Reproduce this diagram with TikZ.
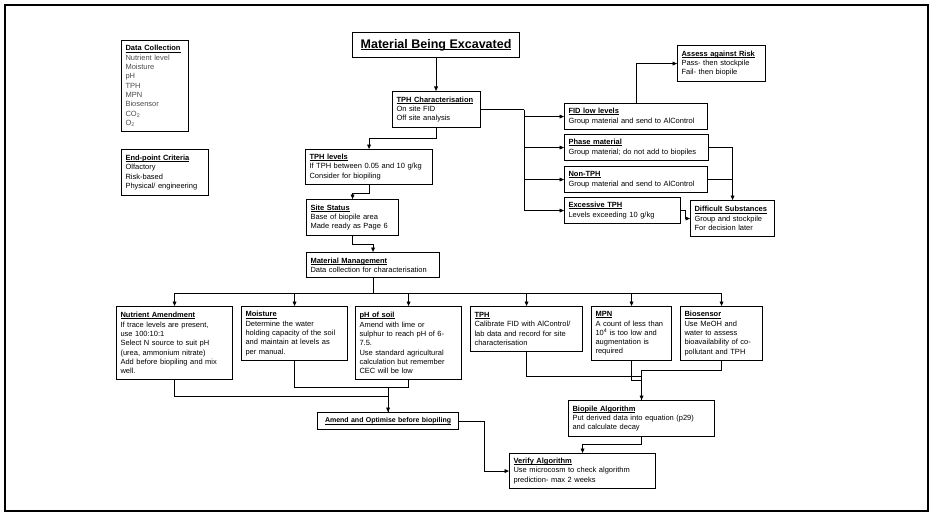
\documentclass[tikz,border=0pt]{standalone}
\usepackage{fontspec}
\setmainfont{Liberation Sans}
\usepackage{calc}
\usepackage{xcolor}
\usepackage{tikz}
\usetikzlibrary{arrows.meta,calc}

\newcommand{\boxhead}[1]{\mbox{\textbf{#1}}\llap{\rule[-1.1pt]{\widthof{\textbf{#1}}}{0.45pt}}}

\begin{document}
\begin{tikzpicture}[
			x=1pt, y=-1pt,
			every node/.style={font=\fontsize{7.5}{9.3}\selectfont},
			box/.style={rectangle, draw, line width=1.1pt, anchor=north west, align=left, inner xsep=4pt, inner ysep=3pt},
			titlebox/.style={rectangle, draw, line width=1.1pt, anchor=north west, align=center, minimum width=167pt, minimum height=25pt, font=\fontsize{12.5}{14}\selectfont},
			line/.style={line width=0.8pt},
			heavy/.style={line width=1.8pt},
			arrow/.style={-{Triangle[length=4.5pt,width=3.8pt]}, line width=0.8pt}
		]
		\useasboundingbox (0,0) rectangle (933,516);
		\draw[line width=2pt] (5,5) rectangle (928,511);

		% side notes
		\node (data) [box, text width=59pt, minimum height=91pt] at (121,40) {\boxhead{Data Collection}\\\color{black!70}Nutrient level\\\color{black!70}Moisture\\\color{black!70}pH\\\color{black!70}TPH\\\color{black!70}MPN\\\color{black!70}Biosensor\\\color{black!70}CO\textsubscript{2}\\\color{black!70}O\textsubscript{2}};
		\node (endpoint) [box, text width=79pt, minimum height=46pt] at (121,149) {\boxhead{End-point Criteria}\\Olfactory\\Risk-based\\Physical/ engineering};

		% main column
		\node (title) [titlebox] at (352,32) {\boxhead{Material Being Excavated}};
		\node (tphchar) [box, text width=80pt, minimum height=36pt] at (392,91) {\boxhead{TPH Characterisation}\\On site FID\\Off site analysis};
		\node (tphlev) [box, text width=119pt, minimum height=35pt] at (305,149) {\boxhead{TPH levels}\\If TPH between 0.05 and 10 g/kg\\Consider for biopiling};
		\node (site) [box, text width=84pt, minimum height=36pt] at (306,199) {\boxhead{Site Status}\\Base of biopile area\\Made ready as Page 6};
		\node (mm) [box, text width=125pt, minimum height=25pt] at (306,252) {\boxhead{Material Management}\\Data collection for characterisation};

		% screening branch
		\node (assess) [box, text width=80pt, minimum height=36pt] at (677,45) {\boxhead{Assess against Risk}\\Pass- then stockpile\\Fail- then biopile};
		\node (fid) [box, text width=135pt, minimum height=26pt] at (564,103) {\boxhead{FID low levels}\\Group material and send to AlControl};
		\node (phase) [box, text width=136pt, minimum height=26pt] at (564,134) {\boxhead{Phase material}\\Group material; do not add to biopiles};
		\node (nontph) [box, text width=135pt, minimum height=26pt] at (564,166) {\boxhead{Non-TPH}\\Group material and send to AlControl};
		\node (excess) [box, text width=108pt, minimum height=26pt] at (564,197) {\boxhead{Excessive TPH}\\Levels exceeding 10 g/kg};
		\node (diff) [box, text width=76pt, minimum height=36pt] at (690,200) {\boxhead{Difficult Substances}\\Group and stockpile\\For decision later};

		% data collection row
		\node (nutr) [box, text width=108pt, minimum height=73pt] at (116,306) {\boxhead{Nutrient Amendment}\\If trace levels are present,\\use 100:10:1\\Select N source to suit pH\\(urea, ammonium nitrate)\\Add before biopiling and mix\\well.};
		\node (moist) [box, text width=98pt, minimum height=54pt] at (241,306) {\boxhead{Moisture}\\Determine the water\\holding capacity of the soil\\and maintain at levels as\\per manual.};
		\node (ph) [box, text width=98pt, minimum height=73pt] at (355,306) {\boxhead{pH of soil}\\Amend with lime or\\sulphur to reach pH of 6-\\7.5.\\Use standard agricultural\\calculation but remember\\CEC will be low};
		\node (tph) [box, text width=104pt, minimum height=45pt] at (470,306) {\boxhead{TPH}\\Calibrate FID with AlControl/\\lab data and record for site\\characterisation};
		\node (mpn) [box, text width=72pt, minimum height=54pt] at (591,306) {\boxhead{MPN}\\A count of less than\\10\textsuperscript{4} is too low and\\augmentation is\\required};
		\node (bios) [box, text width=74pt, minimum height=54pt] at (680,306) {\boxhead{Biosensor}\\Use MeOH and\\water to assess\\bioavailability of co-\\pollutant and TPH};

		% outcome
		\node (amend) [box, align=center, text width=133pt, minimum height=17pt, font=\fontsize{7}{9}\selectfont] at (317,412) {\boxhead{Amend and Optimise before biopiling}};
		\node (biopile) [box, text width=138pt, minimum height=36pt] at (568,400) {\boxhead{Biopile Algorithm}\\Put derived data into equation (p29)\\and calculate decay};
		\node (verify) [box, text width=138pt, minimum height=35pt] at (509,453) {\boxhead{Verify Algorithm}\\Use microcosm to check algorithm\\prediction- max 2 weeks};

		% arrows - main column
		\draw[arrow] (title.south) -- (title.south |- tphchar.north);
		\draw[arrow] (tphchar.south) -- ++(0,10) -| (tphlev.north);
		\draw[arrow] (tphlev.south) -- ++(0,8) -| (site.north);
		\draw[arrow] (site.south) -- ++(0,8) -| (mm.north);

		% arrows - screening branch
		\draw[heavy] (tphchar.east) -- ++(43,0) coordinate (split);
		\draw[line] (split) -- (split |- excess.west);
		\foreach \n in {fid,phase,nontph,excess}
			\draw[arrow] (split |- \n.west) -- (\n.west);
		\draw[arrow] (fid.north) |- (assess.west);
		\draw[arrow] (phase.east) -| (diff.north);
		\draw[line] (nontph.east) -- (nontph.east -| diff.north);
		\draw[arrow] (excess.east) -- ++(4,0) |- (diff.west);

		% arrows - data collection bus
		\draw[line] (mm.south) -- ++(0,15) coordinate (bus);
		\draw[line] (nutr.north |- bus) -- (bios.north |- bus);
		\foreach \n in {nutr,moist,ph,tph,mpn,bios}
			\draw[arrow] (\n.north |- bus) -- (\n.north);

		% arrows - to amend and biopile
		\draw[line] (moist.south) -- ++(0,26) coordinate (mjoin) -| (ph.south);
		\draw[line] (nutr.south) -- ++(0,16) -| (amend.north);
		\draw[arrow] (mjoin -| amend.north) -- (amend.north);
		\draw[line] (tph.south) -- ++(0,24) -| (biopile.north);
		\draw[line] (mpn.south) -- ++(0,19) -| (biopile.north);
		\draw[arrow] (bios.south) -- ++(0,9) -| (biopile.north);
		\draw[arrow] (biopile.south) -- ++(0,7) -| (verify.north);
		\draw[arrow] (amend.east) -- ++(25,0) |- (verify.west);
	\end{tikzpicture}
\end{document}
